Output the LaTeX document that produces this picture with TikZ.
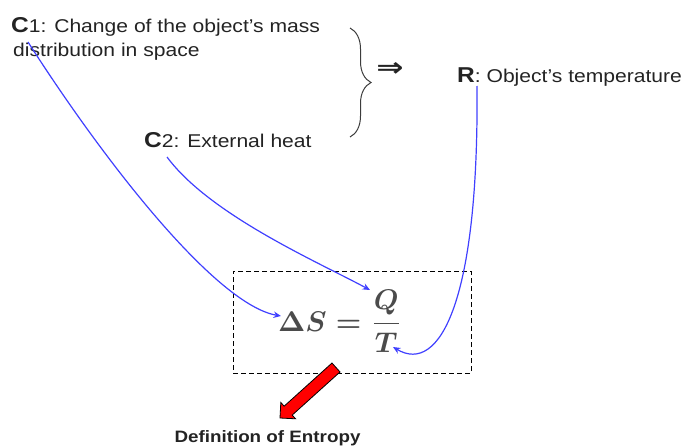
\documentclass[tikz,border=0pt]{standalone}
\usepackage[no-math]{fontspec}
\setmainfont[FakeStretch=1.14]{Liberation Sans}
\newfontfamily\djv{DejaVu Sans}
\usetikzlibrary{arrows.meta,decorations.pathreplacing}
\definecolor{lineblue}{RGB}{64,64,255}
\definecolor{formgray}{RGB}{75,75,75}
\definecolor{bracegray}{RGB}{60,60,60}
\definecolor{txtgray}{RGB}{35,35,35}
\newcommand\nfont{\fontsize{18.5}{22}\selectfont}
\newcommand\bigletter{\fontsize{21.5}{22}\selectfont\bfseries}
\begin{document}
\begin{tikzpicture}[x=1pt,y=-1pt,
  txt/.style={inner sep=0pt, anchor=base west, font=\nfont, text=txtgray},
  conn/.style={lineblue, line width=1.2pt, -{Stealth[length=7.5pt,width=6.5pt]}},
  dbox/.style={draw, dash pattern=on 5pt off 3pt, line width=1pt, inner sep=0pt}]
\useasboundingbox (0,0) rectangle (688,447);

% texts
\node[txt] (c1a) at (11,32) {{\bigletter C}1: Change of the object’s mass};
\node[txt] (c1b) at (13,56) {distribution in space};
\node[txt] (c2) at (144,147) {{\bigletter C}2: External heat};
\node[txt] (r) at (457,82) {{\bigletter R}: Object’s temperature};
\node[inner sep=0pt, anchor=base, text=txtgray, font=\fontsize{16.5}{20}\selectfont\bfseries] (def) at (267.5,442) {Definition of Entropy};

% brace and implication
\draw[bracegray, line width=1pt, decorate, decoration={brace, amplitude=21pt}] (350,28) -- (350,137);
\node[inner sep=0pt, text=txtgray] (impl) at (390,69) {\scalebox{1.25}[1.0]{\djv\bfseries\fontsize{26}{26}\selectfont ⇒}};

% dashed box and formula
\node[dbox, minimum width=238pt, minimum height=102pt] (box) at (352,322) {};
\node[inner sep=0pt, anchor=base, text=formgray] (f) at (340,331) {\scalebox{2.85}{\boldmath$\displaystyle\Delta S=\frac{Q}{T}$}};

% red block arrow
\filldraw[fill=red, draw=black, line width=0.8pt]
  (340.02,371.96) -- (292.19,415.09) -- (295.54,418.80) -- (280,418)
  -- (280.80,402.46) -- (284.15,406.17) -- (331.98,363.04) -- cycle;

% connector endpoints
\coordinate (s1) at (28,42);
\coordinate (e1) at (281,316);
\coordinate (s2) at (167,157);
\coordinate (e2) at (370,290);
\coordinate (s3) at (477,86);
\coordinate (e3) at (393,347);

\draw[conn] (s1) .. controls (110,170) and (218,305) .. (e1);
\draw[conn] (s2) .. controls (210,215) and (318,262) .. (e2);
\draw[conn] (s3) .. controls (479,300) and (440,375) .. (e3);
\end{tikzpicture}
\end{document}
